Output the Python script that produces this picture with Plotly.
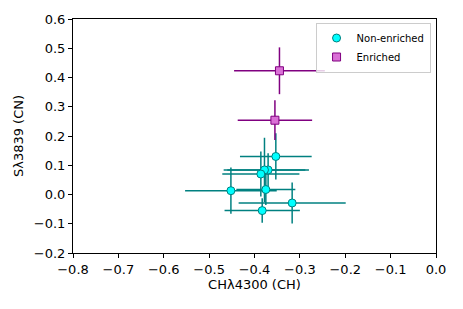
import plotly.graph_objects as go

# Non-enriched stars
ne_x = [-0.353, -0.370, -0.378, -0.386, -0.452, -0.375, -0.317, -0.383]
ne_y = [0.130, 0.084, 0.084, 0.070, 0.013, 0.017, -0.029, -0.055]
ne_xerr = [0.079, 0.090, 0.090, 0.085, 0.101, 0.065, 0.118, 0.083]
ne_yerr = [0.079, 0.057, 0.110, 0.077, 0.079, 0.053, 0.070, 0.042]

# Enriched stars
en_x = [-0.345, -0.355]
en_y = [0.423, 0.254]
en_xerr = [0.100, 0.082]
en_yerr = [0.080, 0.068]

x_ticks = [-0.8, -0.7, -0.6, -0.5, -0.4, -0.3, -0.2, -0.1, 0.0]
y_ticks = [-0.2, -0.1, 0.0, 0.1, 0.2, 0.3, 0.4, 0.5, 0.6]

font = "DejaVu Sans"

fig = go.Figure()
fig.add_trace(go.Scatter(
    x=ne_x, y=ne_y, mode="markers", name="Non-enriched",
    marker=dict(symbol="circle", size=8, color="#00FFFF", line=dict(color="#008080", width=1)),
    error_x=dict(type="data", array=ne_xerr, color="#008080", thickness=1.5, width=0),
    error_y=dict(type="data", array=ne_yerr, color="#008080", thickness=1.5, width=0),
))
fig.add_trace(go.Scatter(
    x=en_x, y=en_y, mode="markers", name="Enriched",
    marker=dict(symbol="square", size=8, color="#DA70D6", line=dict(color="#800080", width=1)),
    error_x=dict(type="data", array=en_xerr, color="#800080", thickness=1.5, width=0),
    error_y=dict(type="data", array=en_yerr, color="#800080", thickness=1.5, width=0),
))

axis_common = dict(
    showline=True, linecolor="black", linewidth=1, mirror=True,
    ticks="outside", ticklen=4, tickcolor="black", showgrid=False, zeroline=False,
    tickfont=dict(family=font, size=13, color="black"),
)
fig.update_xaxes(range=[-0.8, 0.0], tickvals=x_ticks, tickformat=".1f",
                 title=dict(text="CHλ4300 (CH)", font=dict(family=font, size=13, color="black"), standoff=4),
                 **axis_common)
fig.update_yaxes(range=[-0.2, 0.6], tickvals=y_ticks, tickformat=".1f",
                 title=dict(text="Sλ3839 (CN)", font=dict(family=font, size=13, color="black"), standoff=7),
                 **axis_common)

fig.update_layout(
    width=463, height=309,
    margin=dict(l=73, r=27, t=17, b=56),
    plot_bgcolor="white", paper_bgcolor="white",
    font=dict(family=font, color="black"),
    legend=dict(x=0.985, y=0.985, xanchor="right", yanchor="top",
                bgcolor="rgba(255,255,255,0.8)", bordercolor="#cccccc", borderwidth=1,
                font=dict(family=font, size=10, color="black"), itemwidth=30,
                tracegroupgap=0),
)

fig.write_html("out.html", config={"displayModeBar": False},
               post_script="document.body.style.margin='0';")
